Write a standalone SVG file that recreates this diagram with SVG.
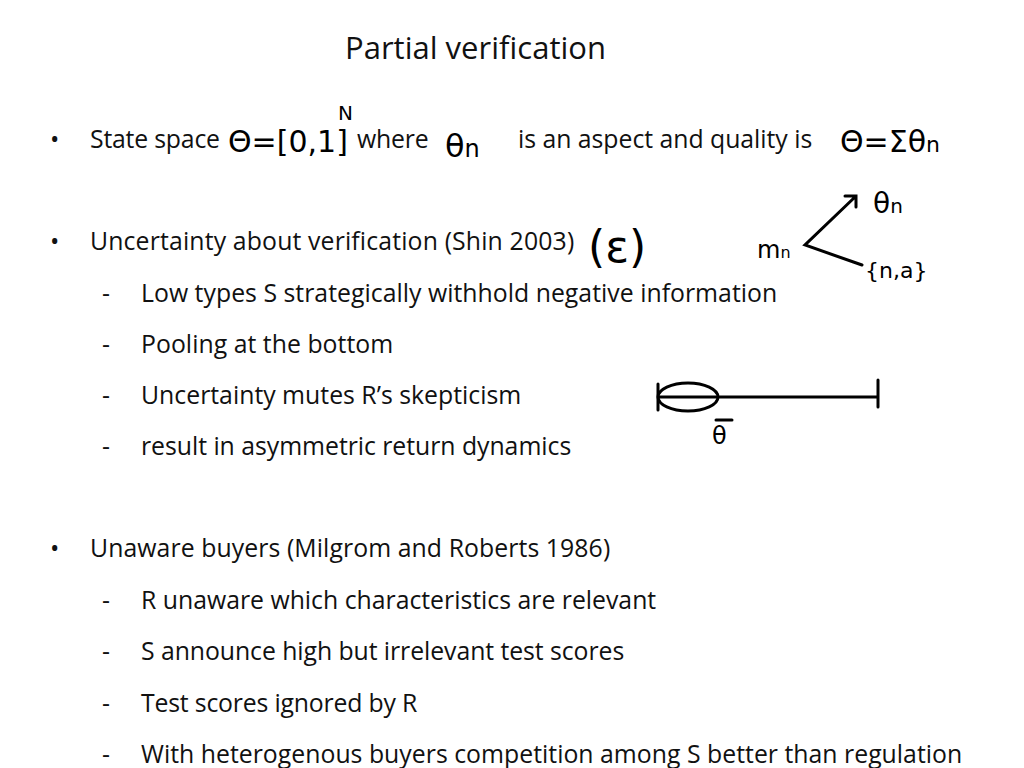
<svg xmlns="http://www.w3.org/2000/svg" width="1024" height="768" viewBox="0 0 1024 768">
<style>
.t{font-family:"Open Sans","Liberation Sans",sans-serif;font-size:24.8px;fill:#111;letter-spacing:-0.2px}
.h{font-family:"DejaVu Sans",sans-serif;fill:#000}
.s{fill:none;stroke:#000;stroke-width:3;stroke-linecap:round}
</style>
<rect width="1024" height="768" fill="#fff"/>
<text class="t" x="345" y="59" style="font-size:31px;letter-spacing:0" textLength="261">Partial verification</text>
<g id="text">
<text class="t" x="50" y="148" font-size="20">•</text><text class="t" x="90" y="148">State space</text>
<text class="t" x="357" y="148">where</text>
<text class="t" x="518" y="148" textLength="294">is an aspect and quality is</text>
<text class="t" x="50" y="250" font-size="20">•</text><text class="t" x="90" y="250" textLength="484">Uncertainty about verification (Shin 2003)</text>
<text class="t" x="102" y="302">-</text><text class="t" x="141" y="302" textLength="636">Low types S strategically withhold negative information</text>
<text class="t" x="102" y="353">-</text><text class="t" x="141" y="353" textLength="252">Pooling at the bottom</text>
<text class="t" x="102" y="404">-</text><text class="t" x="141" y="404" textLength="380">Uncertainty mutes R’s skepticism</text>
<text class="t" x="102" y="455">-</text><text class="t" x="141" y="455" textLength="430">result in asymmetric return dynamics</text>
<text class="t" x="50" y="557" font-size="20">•</text><text class="t" x="90" y="557" textLength="520">Unaware buyers (Milgrom and Roberts 1986)</text>
<text class="t" x="102" y="609">-</text><text class="t" x="141" y="609" textLength="515">R unaware which characteristics are relevant</text>
<text class="t" x="102" y="660">-</text><text class="t" x="141" y="660" textLength="483">S announce high but irrelevant test scores</text>
<text class="t" x="102" y="712">-</text><text class="t" x="141" y="712" textLength="276">Test scores ignored by R</text>
<text class="t" x="102" y="763">-</text><text class="t" x="141" y="763" textLength="821">With heterogenous buyers competition among S better than regulation</text>
</g>
<g id="math">
<text class="h" x="228" y="152" font-size="30">Θ=[0,1]</text>
<text class="h" x="338" y="120" font-size="20">N</text>
<text class="h" x="445" y="157" font-size="32">θ<tspan font-size="24">n</tspan></text>
<text class="h" x="840" y="152" font-size="30">Θ=Σθ<tspan font-size="22">n</tspan></text>
<text class="h" x="588" y="262" font-size="44">(ε)</text>
<text class="h" x="757" y="258" font-size="24">m<tspan font-size="16">n</tspan></text>
<text class="h" x="873" y="213" font-size="28">θ<tspan font-size="20">n</tspan></text>
<text class="h" x="865" y="278" font-size="22">{n,a}</text>
<text class="h" x="712" y="444" font-size="24">θ</text>
</g>
<g id="connectors">
<path class="s" d="M855 197 L805 245 L862 265 M845 196 L856 196 L856 207"/>
<ellipse class="s" cx="688" cy="397" rx="30" ry="14"/>
<path class="s" d="M658 397 H878 M878 380 V407 M658 384 V410 M716 420 H732"/>
</g>
</svg>
